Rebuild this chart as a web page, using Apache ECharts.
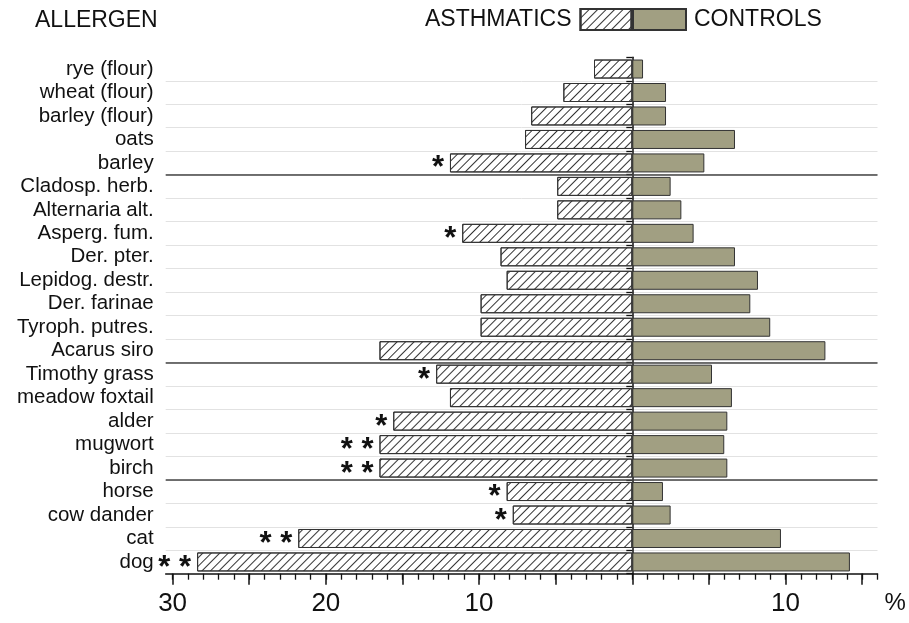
<!DOCTYPE html>
<html>
<head>
<meta charset="utf-8">
<script src="https://cdn.jsdelivr.net/npm/echarts@6/dist/echarts.min.js"></script>
<style>
html,body{margin:0;padding:0;background:#fff;}
#chart{width:909px;height:623px;}
</style>
</head>
<body>
<div id="chart"></div>
<script>
const categories = ['rye (flour)', 'wheat (flour)', 'barley (flour)', 'oats', 'barley',
  'Cladosp. herb.', 'Alternaria alt.', 'Asperg. fum.', 'Der. pter.', 'Lepidog. destr.',
  'Der. farinae', 'Tyroph. putres.', 'Acarus siro', 'Timothy grass', 'meadow foxtail',
  'alder', 'mugwort', 'birch', 'horse', 'cow dander', 'cat', 'dog'];
const asthmatics = [2.5, 4.5, 6.6, 7.0, 11.9, 4.9, 4.9, 11.1, 8.6, 8.2, 9.9, 9.9, 16.5, 12.8, 11.9, 15.6, 16.5, 16.5, 8.2, 7.8, 21.8, 28.4];
const controls = [0.7, 2.2, 2.2, 6.7, 4.7, 2.5, 3.2, 4.0, 6.7, 8.2, 7.7, 9.0, 12.6, 5.2, 6.5, 6.2, 6.0, 6.2, 2.0, 2.5, 9.7, 14.2];
const significance = ['', '', '', '', '*', '', '', '*', '', '', '', '', '', '*', '', '*', '* *', '* *', '*', '*', '* *', '* *'];
const groupBreaks = [5, 13, 18];
const majorTicks = [-30, -25, -20, -15, -10, -5, 0, 5, 10, 15];
const tickLabels = [-30, -20, -10, 10];
const axisMin = -30.45, axisMax = 16;

const minorTicks = [];
for (let v = -30; v <= 16; v++) minorTicks.push(v);

const FONT = "'Liberation Sans', Arial, Helvetica, sans-serif";
const chart = echarts.init(document.getElementById('chart'));
const option = {
  backgroundColor: '#fff',
  animation: false,
  textStyle: { fontFamily: FONT },
  title: {
    text: 'ALLERGEN', left: 35, top: 9, padding: 0,
    textStyle: { fontSize: 23, fontWeight: 'normal', color: '#111', fontFamily: FONT }
  },
  legend: [
    {
      data: ['ASTHMATICS'], right: 909 - 632.5, top: 8, padding: 0, align: 'right',
      icon: 'rect', itemWidth: 51, itemHeight: 21, selectedMode: false,
      textStyle: { fontSize: 23, color: '#111', fontFamily: FONT, padding: [0, 4, 0, 0] }
    },
    {
      data: ['CONTROLS'], left: 632, top: 8, padding: 0, align: 'left',
      icon: 'rect', itemWidth: 53, itemHeight: 21, selectedMode: false,
      textStyle: { fontSize: 23, color: '#111', fontFamily: FONT, padding: [0, 0, 0, 3] }
    }
  ],
  grid: { left: 165.7, right: 31.5, top: 57.3, bottom: 49.3, containLabel: false },
  xAxis: [
    {
      type: 'value', min: axisMin, max: axisMax, position: 'bottom',
      axisLine: { show: true, onZero: false, lineStyle: { color: '#111', width: 1.5 } },
      axisTick: { show: true, customValues: majorTicks, length: 11, lineStyle: { color: '#111', width: 1.5 } },
      axisLabel: { show: true, customValues: tickLabels, formatter: v => String(Math.abs(v)),
        fontSize: 26, color: '#111', margin: 17, fontFamily: FONT },
      splitLine: { show: false },
      name: '%', nameLocation: 'end', nameGap: 7,
      nameTextStyle: { fontSize: 24, color: '#111', verticalAlign: 'top', padding: [18, 0, 0, 0], fontFamily: FONT }
    },
    {
      type: 'value', min: axisMin, max: axisMax, position: 'bottom',
      axisLine: { show: false, onZero: false },
      axisTick: { show: true, customValues: minorTicks, length: 6, lineStyle: { color: '#111', width: 1.3 } },
      axisLabel: { show: false },
      splitLine: { show: false }
    }
  ],
  yAxis: [
    {
      type: 'category', data: categories, inverse: true, position: 'left',
      axisLine: { show: false, onZero: false },
      axisTick: { show: false },
      axisLabel: { interval: 0, fontSize: 20.5, color: '#111', margin: 12, fontFamily: FONT },
      splitLine: { show: false }
    },
    {
      type: 'category', data: categories, inverse: true, position: 'left',
      axisLine: { show: true, onZero: true, lineStyle: { color: '#111', width: 1.5 } },
      axisTick: { show: true, interval: 0, length: 6, lineStyle: { color: '#111', width: 1.3 } },
      axisLabel: { show: false },
      splitLine: { show: false }
    },
    {
      type: 'value', min: 0, max: categories.length, interval: 1, inverse: true,
      axisLine: { show: false, onZero: false },
      axisTick: { show: false }, axisLabel: { show: false },
      splitLine: { show: true, showMinLine: false, showMaxLine: false, lineStyle: { color: '#e2e2e2', width: 1 } }
    }
  ],
  series: [
    {
      name: 'ASTHMATICS', type: 'bar', xAxisIndex: 0, yAxisIndex: 0,
      data: asthmatics.map(v => -v), barWidth: 19, barGap: '-100%',
      itemStyle: {
        color: '#ffffff', borderColor: '#333', borderWidth: 1,
        decal: { symbol: 'rect', symbolSize: 1, dashArrayX: [1, 0], dashArrayY: [1, 4.2],
          rotation: -Math.PI / 4, color: '#333' }
      },
      label: {
        show: true, position: 'left', distance: 6, offset: [0, 6],
        formatter: p => significance[p.dataIndex],
        fontSize: 31, fontWeight: 'bold', color: '#111', fontFamily: FONT
      },
      z: 3
    },
    {
      name: 'CONTROLS', type: 'bar', xAxisIndex: 0, yAxisIndex: 0,
      data: controls, barWidth: 19, barGap: '-100%',
      itemStyle: { color: '#a19f82', borderColor: '#333', borderWidth: 1 },
      z: 3
    },
    {
      name: 'groups', type: 'line', xAxisIndex: 0, yAxisIndex: 2, data: [],
      silent: true,
      markLine: {
        symbol: 'none', silent: true, animation: false,
        label: { show: false },
        lineStyle: { color: '#444', width: 1.5, type: 'solid' },
        data: groupBreaks.map(v => ({ yAxis: v }))
      }
    }
  ]
};
chart.setOption(option);
</script>
</body>
</html>
